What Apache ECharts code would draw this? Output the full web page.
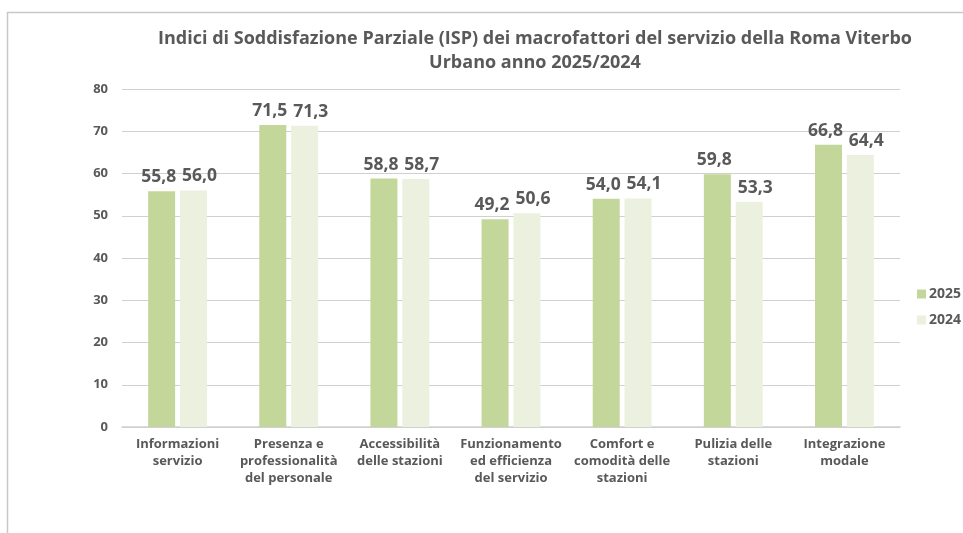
<!DOCTYPE html>
<html>
<head>
<meta charset="utf-8">
<script src="https://cdn.jsdelivr.net/npm/echarts@6/dist/echarts.min.js"></script>
<style>
  html, body { margin: 0; padding: 0; background: #fff; }
  #chart { width: 963px; height: 533px; }
</style>
</head>
<body>
<div id="chart"></div>
<script>
// Macro-factor categories
const categories = [
  'Informazioni\nservizio',
  'Presenza e\nprofessionalità\ndel personale',
  'Accessibilità\ndelle stazioni',
  'Funzionamento\ned efficienza\ndel servizio',
  'Comfort e\ncomodità delle\nstazioni',
  'Pulizia delle\nstazioni',
  'Integrazione\nmodale'
];
// ISP values per year
const values2025 = [55.8, 71.5, 58.8, 49.2, 54.0, 59.8, 66.8];
const values2024 = [56.0, 71.3, 58.7, 50.6, 54.1, 53.3, 64.4];
const seriesNames = ['2025', '2024'];
const yTicks = [0, 10, 20, 30, 40, 50, 60, 70, 80];

const textColor = '#595959';
const fontFamily = '"Open Sans", Lato, sans-serif';

const fmt = v => v.toFixed(1).replace('.', ',');

const chart = echarts.init(document.getElementById('chart'), null, { renderer: 'canvas' });

chart.setOption({
  backgroundColor: '#fff',
  animation: false,
  textStyle: { fontFamily: fontFamily, color: textColor },
  title: {
    text: 'Indici di Soddisfazione Parziale (ISP) dei macrofattori del servizio della Roma Viterbo\nUrbano anno 2025/2024',
    left: 530,
    top: 22,
    textAlign: 'center',
    textStyle: {
      fontFamily: fontFamily,
      fontSize: 18,
      fontWeight: 'bold',
      color: textColor,
      lineHeight: 24
    }
  },
  legend: {
    orient: 'vertical',
    left: 912,
    top: 282,
    itemWidth: 9,
    itemHeight: 9,
    itemGap: 12,
    icon: 'rect',
    data: seriesNames,
    textStyle: { fontFamily: fontFamily, fontSize: 14, fontWeight: 'bold', color: textColor, padding: [0, 0, 0, -2] }
  },
  grid: { left: 122, right: 63, top: 89, bottom: 106 },
  xAxis: {
    type: 'category',
    data: categories,
    axisLine: { lineStyle: { color: '#d0d0d0', width: 1.5 } },
    axisTick: { show: false },
    axisLabel: {
      interval: 0,
      fontFamily: fontFamily,
      fontSize: 13,
      fontWeight: 'bold',
      color: textColor,
      lineHeight: 17,
      margin: 9
    }
  },
  yAxis: {
    type: 'value',
    min: yTicks[0],
    max: yTicks[yTicks.length - 1],
    interval: 10,
    axisLine: { show: false },
    axisTick: { show: false },
    splitLine: { lineStyle: { color: '#d0d0d0', width: 1.2 } },
    axisLabel: {
      fontFamily: fontFamily,
      fontSize: 13,
      fontWeight: 'bold',
      color: textColor,
      margin: 14
    }
  },
  series: [
    {
      name: seriesNames[0],
      type: 'bar',
      data: values2025,
      barWidth: 27,
      barGap: '18%',
      itemStyle: { color: '#c4d79b' },
      label: {
        show: true,
        position: 'top',
        offset: [-3, 0],
        formatter: p => fmt(p.value),
        fontFamily: fontFamily,
        fontSize: 17.5,
        fontWeight: 'bold',
        color: textColor
      }
    },
    {
      name: seriesNames[1],
      type: 'bar',
      data: values2024,
      barWidth: 27,
      itemStyle: { color: '#ebf1de' },
      label: {
        show: true,
        position: 'top',
        offset: [6, 0],
        formatter: p => fmt(p.value),
        fontFamily: fontFamily,
        fontSize: 17.5,
        fontWeight: 'bold',
        color: textColor
      }
    }
  ],
  graphic: [
    {
      type: 'polyline',
      shape: { points: [[7.5, 533], [7.5, 12.5], [963, 12.5]] },
      style: { stroke: '#c8c8c8', lineWidth: 1.5, fill: null },
      silent: true
    }
  ]
});
</script>
</body>
</html>
